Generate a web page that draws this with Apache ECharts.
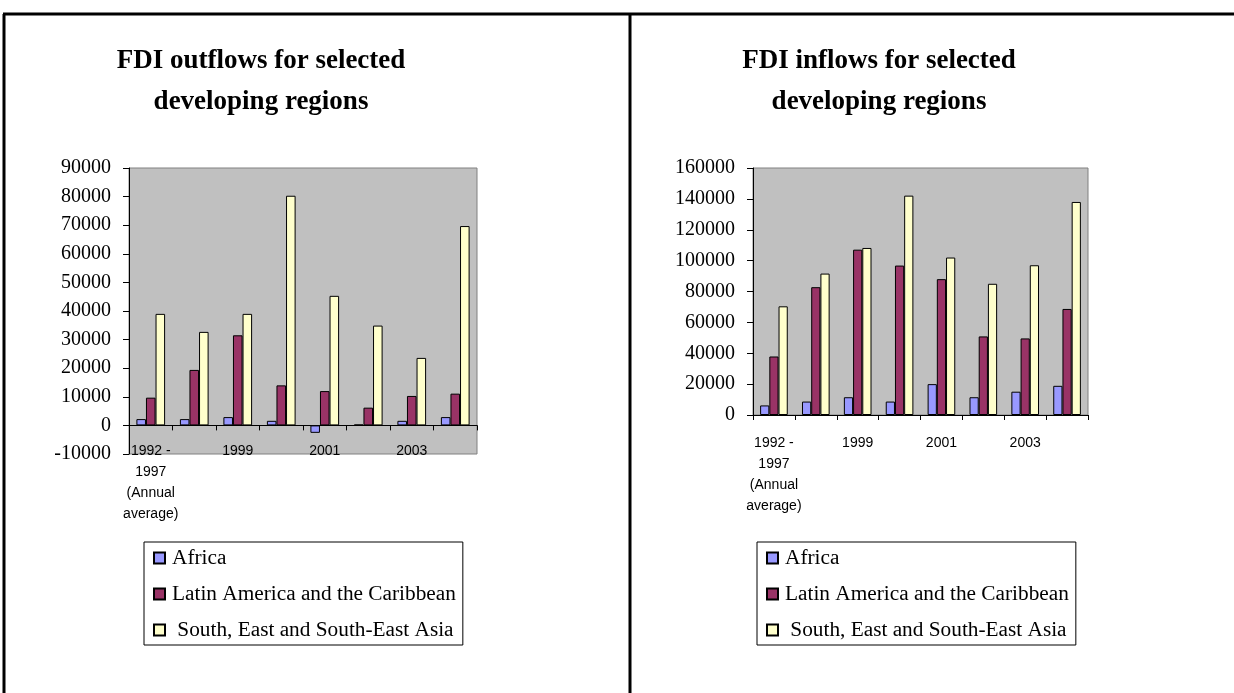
<!DOCTYPE html>
<html>
<head>
<meta charset="utf-8">
<script src="https://cdn.jsdelivr.net/npm/echarts@6/dist/echarts.min.js"></script>
<style>
html,body{margin:0;padding:0;background:#fff;}
#c{width:1234px;height:693px;}
</style>
</head>
<body>
<div id="c"></div>
<script>
var categories = ['1992 -\n1997\n(Annual\naverage)', '1998', '1999', '2000', '2001', '2002', '2003', '2004'];
var seriesNames = ['Africa', 'Latin America and the Caribbean', ' South, East and South-East Asia'];
var outAfrica = [2200, 2200, 2900, 1600, -2600, 300, 1600, 2900];
var outLatin = [9700, 19400, 31500, 14000, 12000, 6200, 10300, 11100];
var outAsia = [39000, 32700, 39000, 80300, 45300, 34900, 23600, 69700];
var inAfrica = [6200, 8700, 11500, 8700, 20000, 11500, 15100, 18900];
var inLatin = [37900, 82800, 107100, 96800, 88000, 50900, 49600, 68700];
var inAsia = [70400, 91600, 108200, 142100, 102000, 85000, 97000, 138000];
var titles = ['FDI outflows for selected\ndeveloping regions', 'FDI inflows for selected\ndeveloping regions'];

var colors = ['#9999FF', '#993366', '#FFFFCC'];
var serif = '"Liberation Serif", "Times New Roman", serif';
var sans = '"Liberation Sans", Arial, sans-serif';

function xAxis(idx, offset, margin) {
  return {
    type: 'category', gridIndex: idx, data: categories, position: 'bottom', offset: offset,
    axisLine: { onZero: false, lineStyle: { color: '#000', width: 1 } },
    axisTick: { show: true, interval: 0, length: 5, lineStyle: { color: '#000' } },
    axisLabel: { interval: 1, color: '#000', fontFamily: sans, fontSize: 14, lineHeight: 21, margin: margin }
  };
}
function yAxis(idx, min, max, step) {
  return {
    type: 'value', gridIndex: idx, min: min, max: max, interval: step,
    axisLine: { show: true, lineStyle: { color: '#000', width: 1 } },
    axisTick: { show: true, length: 6, lineStyle: { color: '#000' } },
    splitLine: { show: false },
    axisLabel: { color: '#000', fontFamily: serif, fontSize: 20, margin: 18,
      formatter: function (v) { return String(v); } }
  };
}
function bars(idx, arrs) {
  return arrs.map(function (d, i) {
    return {
      name: seriesNames[i], type: 'bar', xAxisIndex: idx, yAxisIndex: idx, data: d,
      barGap: '0%', barCategoryGap: '34%',
      itemStyle: { color: colors[i], borderColor: '#000', borderWidth: 1 },
      emphasis: { disabled: true }, animation: false
    };
  });
}
function legend(left) {
  return {
    orient: 'vertical', left: left, top: 542, data: seriesNames,
    itemWidth: 11, itemHeight: 11, itemGap: 12, icon: 'rect',
    borderColor: '#000', borderWidth: 1, padding: [4, 7, 3, 9],
    textStyle: { fontFamily: serif, fontSize: 21.3, color: '#000', lineHeight: 24, padding: [0, 0, 0, 2] },
    selectedMode: false
  };
}

var chart = echarts.init(document.getElementById('c'));
chart.setOption({
  animation: false,
  color: colors,
  title: [
    { text: titles[0], left: 256, top: 36, textAlign: 'center',
      textStyle: { fontFamily: serif, fontWeight: 'bold', fontSize: 27, lineHeight: 41, color: '#000' } },
    { text: titles[1], left: 874, top: 36, textAlign: 'center',
      textStyle: { fontFamily: serif, fontWeight: 'bold', fontSize: 27, lineHeight: 41, color: '#000' } }
  ],
  grid: [
    { left: 129, top: 168, width: 348, height: 286, show: true, backgroundColor: '#C0C0C0', borderColor: '#808080', borderWidth: 1 },
    { left: 753, top: 168, width: 335, height: 247, show: true, backgroundColor: '#C0C0C0', borderColor: '#808080', borderWidth: 1 }
  ],
  xAxis: [xAxis(0, -28.6, 15), xAxis(1, 0, 18)],
  yAxis: [yAxis(0, -10000, 90000, 10000), yAxis(1, 0, 160000, 20000)],
  legend: [legend(144), legend(757)],
  series: bars(0, [outAfrica, outLatin, outAsia]).concat(bars(1, [inAfrica, inLatin, inAsia])),
  graphic: [
    { type: 'line', shape: { x1: 3, y1: 14, x2: 1234, y2: 14 }, style: { stroke: '#000', lineWidth: 3 } },
    { type: 'line', shape: { x1: 4, y1: 14, x2: 4, y2: 693 }, style: { stroke: '#000', lineWidth: 3 } },
    { type: 'line', shape: { x1: 630, y1: 14, x2: 630, y2: 693 }, style: { stroke: '#000', lineWidth: 3 } }
  ]
});
</script>
</body>
</html>
